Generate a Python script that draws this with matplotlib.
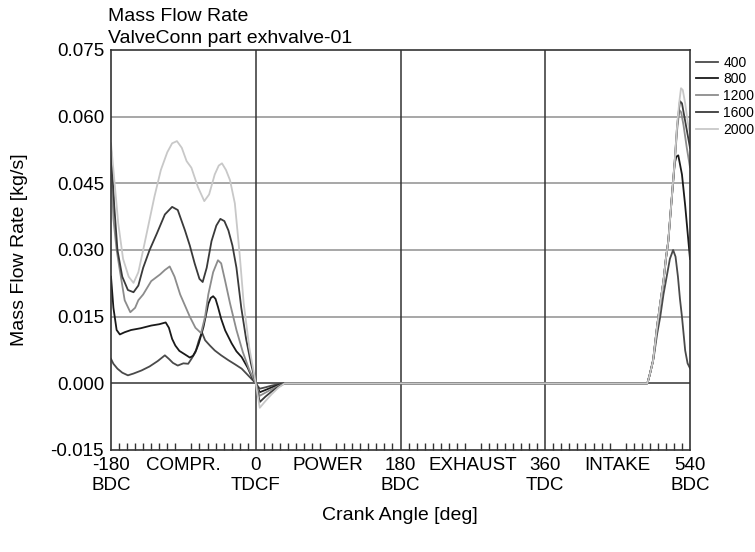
import matplotlib
matplotlib.use('Agg')
import matplotlib.pyplot as plt
from matplotlib.ticker import MultipleLocator, FixedLocator

plt.rcParams['font.family'] = ['Liberation Sans', 'DejaVu Sans']

# engine speeds [rpm] and line greys
rpm_labels = ['400', '800', '1200', '1600', '2000']
rpm_colors = ['#4a4a4a', '#1a1a1a', '#8c8c8c', '#3a3a3a', '#c8c8c8']

# crank angle [deg] / mass flow rate [kg/s]
ang_400 = [-180, -177, -172, -166, -159, -152, -142, -132, -122, -113, -108, -103, -97, -90, -84,
           -80, -75, -71, -67, -63, -57, -51, -43, -34, -26, -17.5, -9, 0,
           5, 12, 20, 28, 36, 487, 490, 495, 499, 503, 507, 511, 515, 519, 522, 525, 527.5, 530,
           534, 537, 540]
mfr_400 = [0.0055, 0.0044, 0.0033, 0.0024, 0.0018, 0.0022, 0.0029, 0.0038, 0.005, 0.0063, 0.0055,
           0.0046, 0.004, 0.0045, 0.0044, 0.0055, 0.007, 0.0095, 0.0115, 0.0097, 0.0085, 0.0074,
           0.0063, 0.0052, 0.0043, 0.0033, 0.0017, 0.0,
           -0.0012, -0.0009, -0.0005, -0.0002, 0.0, 0.0, 0.002, 0.006, 0.011, 0.015, 0.02, 0.024,
           0.028, 0.030, 0.0285, 0.024, 0.019, 0.015, 0.0074, 0.0045, 0.0034]

ang_800 = [-180, -177, -173, -169, -163, -155, -143, -130, -120, -112, -108, -104, -100, -95, -88,
           -82, -78, -74, -71, -65, -59, -56, -53, -50, -47, -43, -38, -30, -24, -17.5, -10, -5, 0,
           5, 12, 20, 28, 36, 487, 490, 494, 499, 503, 507, 510, 513, 517, 521, 523, 525.4, 530,
           534, 537, 540]
mfr_800 = [0.024, 0.017, 0.012, 0.011, 0.0115, 0.012, 0.0124, 0.013, 0.0133, 0.0137, 0.0125, 0.010,
           0.0085, 0.0073, 0.0065, 0.0058, 0.0062, 0.0075, 0.0089, 0.0127, 0.0179, 0.0192, 0.0196,
           0.019, 0.0172, 0.0145, 0.0119, 0.009, 0.0072, 0.0059, 0.0035, 0.0015, 0.0,
           -0.002, -0.0015, -0.0009, -0.0004, 0.0, 0.0, 0.002, 0.005, 0.0127, 0.018, 0.023, 0.028,
           0.032, 0.041, 0.0495, 0.051, 0.0513, 0.047, 0.040, 0.034, 0.028]

ang_1200 = [-180, -177, -173, -169, -163, -156, -150, -146, -140, -130, -119, -113, -107, -101, -94,
            -88, -82, -75, -68, -63, -59, -53, -47, -43, -38, -32, -24, -16, -8, 0,
            5, 12, 20, 28, 36, 487, 490, 494, 499, 503, 507, 510, 513, 517, 521, 524, 526.7, 529,
            532, 536, 540]
mfr_1200 = [0.050, 0.037, 0.030, 0.0254, 0.0187, 0.016, 0.017, 0.0187, 0.020, 0.023, 0.0245, 0.0255,
            0.0263, 0.024, 0.020, 0.0175, 0.015, 0.0125, 0.0113, 0.015, 0.020, 0.025, 0.0277, 0.027,
            0.023, 0.018, 0.012, 0.007, 0.003, 0.0,
            -0.0028, -0.0021, -0.0013, -0.0006, 0.0, 0.0, 0.002, 0.005, 0.0127, 0.018, 0.023, 0.028,
            0.032, 0.041, 0.050, 0.057, 0.0615, 0.061, 0.058, 0.053, 0.0486]

ang_1600 = [-180, -176, -172, -166, -159, -152, -146, -140, -132, -123, -113, -104, -97, -88, -82,
            -76, -70, -66, -61, -55, -49, -44, -39, -34, -29, -24, -18, -12, -6, 0,
            5, 12, 20, 28, 36, 487, 490, 494, 499, 503, 507, 510, 513, 517, 521, 524, 527.5, 530,
            533, 537, 540]
mfr_1600 = [0.053, 0.040, 0.030, 0.024, 0.021, 0.0205, 0.022, 0.026, 0.030, 0.0337, 0.038, 0.0397,
            0.039, 0.0344, 0.031, 0.027, 0.0235, 0.0228, 0.026, 0.032, 0.0355, 0.037, 0.0365, 0.0344,
            0.031, 0.026, 0.017, 0.010, 0.0045, 0.0,
            -0.0042, -0.003, -0.0018, -0.0008, 0.0, 0.0, 0.002, 0.005, 0.0127, 0.018, 0.023, 0.028,
            0.032, 0.041, 0.050, 0.058, 0.0635, 0.063, 0.060, 0.056, 0.053]

ang_2000 = [-180, -176, -171, -165, -158, -152, -146, -140, -133, -126, -118, -110, -104, -98, -92,
            -86, -80, -72, -64, -58, -51, -46, -42, -37, -32, -26, -20, -15, -8, 0,
            5, 12, 20, 28, 36, 487, 490, 494, 499, 503, 507, 510, 513, 517, 521, 524, 526.5, 528.8,
            531, 534, 537, 540]
mfr_2000 = [0.054, 0.046, 0.036, 0.028, 0.024, 0.0226, 0.025, 0.030, 0.036, 0.042, 0.048, 0.052,
            0.054, 0.0545, 0.053, 0.050, 0.0485, 0.0442, 0.041, 0.0425, 0.047, 0.049, 0.0495, 0.048,
            0.0457, 0.0405, 0.029, 0.018, 0.008, 0.0,
            -0.0055, -0.004, -0.0024, -0.001, 0.0, 0.0, 0.002, 0.005, 0.0127, 0.018, 0.023, 0.028,
            0.032, 0.041, 0.050, 0.058, 0.063, 0.0664, 0.066, 0.063, 0.059, 0.056]

curves = [(ang_400, mfr_400), (ang_800, mfr_800), (ang_1200, mfr_1200),
          (ang_1600, mfr_1600), (ang_2000, mfr_2000)]

tick_pos = [-180, -90, 0, 90, 180, 270, 360, 450, 540]
tick_txt = ['-180\nBDC', 'COMPR.', '0\nTDCF', 'POWER', '180\nBDC', 'EXHAUST', '360\nTDC',
            'INTAKE', '540\nBDC']
y_ticks = [-0.015, 0.0, 0.015, 0.030, 0.045, 0.060, 0.075]

fig = plt.figure(figsize=(7.55, 5.52), dpi=100)
ax = fig.add_axes([111 / 755, 1 - 450 / 552, 579 / 755, 400 / 552])

for yv in [0.015, 0.030, 0.045, 0.060]:
    ax.axhline(yv, color='#a0a0a0', lw=1.3, zorder=1)
ax.axhline(0.0, color='#333333', lw=1.1, zorder=1)
for xv in [0, 180, 360]:
    ax.axvline(xv, color='#333333', lw=1.1, zorder=1)

for (a, m), lab, col in zip(curves, rpm_labels, rpm_colors):
    ax.plot(a, m, color=col, lw=1.3, label=lab, zorder=2)

ax.set_xlim(-180, 540)
ax.set_ylim(-0.015, 0.075)
ax.xaxis.set_major_locator(FixedLocator(tick_pos))
ax.set_xticklabels(tick_txt)
ax.xaxis.set_minor_locator(MultipleLocator(10))
ax.set_yticks(y_ticks)
ax.set_yticklabels([f'{v:.3f}' for v in y_ticks])
ax.tick_params(axis='x', which='major', length=0, pad=5, labelsize=13.5)
ax.tick_params(axis='x', which='minor', direction='in', length=5, width=1, color='#333333')
ax.tick_params(axis='y', which='major', length=0, pad=5, labelsize=13.5)
for s in ax.spines.values():
    s.set_color('#333333')
    s.set_linewidth(1.2)

fig.text(20 / 755, 1 - 250 / 552, 'Mass Flow Rate [kg/s]', rotation=90, ha='center',
         va='center', fontsize=14)
fig.text(400 / 755, 1 - 515 / 552, 'Crank Angle [deg]', ha='center', va='center', fontsize=14)
fig.text(108 / 755, 1 - 21 / 552, 'Mass Flow Rate', ha='left', va='baseline', fontsize=14)
fig.text(108 / 755, 1 - 43 / 552, 'ValveConn part exhvalve-01', ha='left', va='baseline',
         fontsize=14)

ax.legend(loc='upper left', bbox_to_anchor=(1.0, 1.0), frameon=False, fontsize=10,
          handlelength=1.6, handletextpad=0.4, labelspacing=0.2, borderaxespad=0.2,
          borderpad=0.2)

fig.savefig('out.png', dpi=100)
